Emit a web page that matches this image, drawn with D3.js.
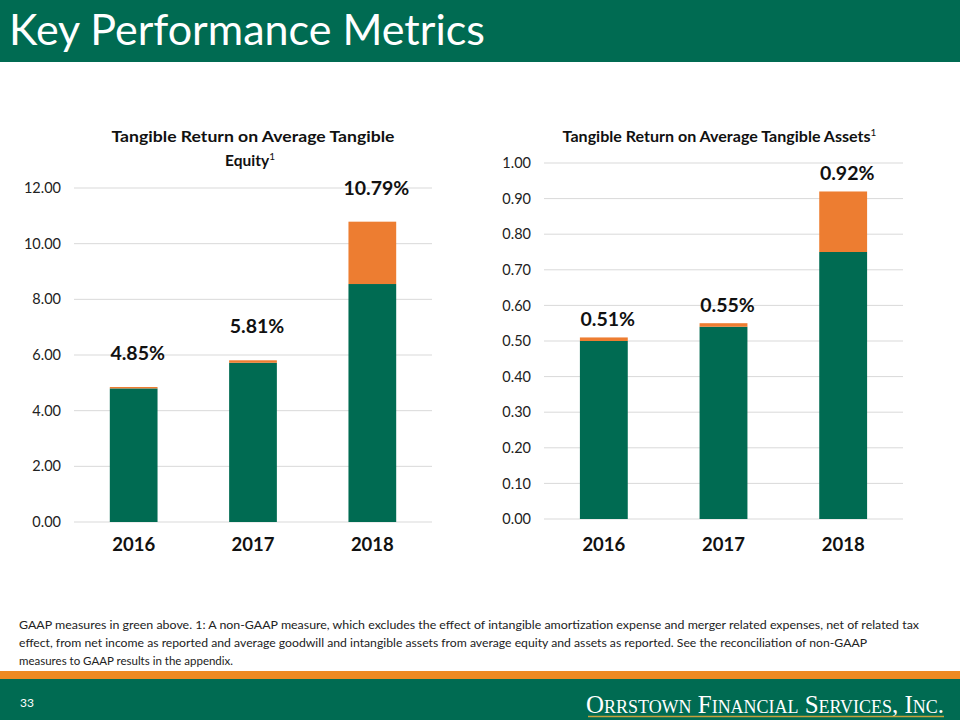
<!DOCTYPE html>
<html><head><meta charset="utf-8">
<script src="https://cdn.jsdelivr.net/npm/d3@7"></script>
<style>body{margin:0;background:#fff}svg{display:block}</style>
</head><body><svg id="c" width="960" height="720"></svg>
<script>
const years = ["2016","2017","2018"];
const equityGaap = [4.80, 5.72, 8.55];
const equityAdj = [0.05, 0.09, 2.24];
const equityLabels = ["4.85%","5.81%","10.79%"];
const equityTicks = [0,2,4,6,8,10,12];
const assetsGaap = [0.50, 0.54, 0.75];
const assetsAdj = [0.01, 0.01, 0.17];
const assetsLabels = ["0.51%","0.55%","0.92%"];
const assetsTicks = [0,0.1,0.2,0.3,0.4,0.5,0.6,0.7,0.8,0.9,1.0];

const GREEN = "#006b52", ORANGE = "#ed7d31", FONT = "Lato, 'Open Sans', sans-serif";
const svg = d3.select("#c");

// header
svg.append("rect").attr("x",0).attr("y",0).attr("width",960).attr("height",62).attr("fill",GREEN);
svg.append("text").attr("x",9).attr("y",45).attr("fill","#fff").attr("font-family",FONT)
  .attr("font-size",42).attr("textLength",476).attr("lengthAdjust","spacingAndGlyphs").text("Key Performance Metrics");

function chart(opts){
  const {x0,x1,y0,y1,max,ticks,gaap,adj,labels,labelGap,titleLines,titleY,fmt,xPad} = opts;
  const g = svg.append("g");
  const x = d3.scaleBand().domain(years).range([x0,x1]).paddingInner(0.6).paddingOuter(0.3);
  const y = d3.scaleLinear().domain([0,max]).range([y0,y1]);
  g.selectAll(".grid").data(ticks).join("line")
    .attr("x1",x0).attr("x2",x1).attr("y1",d=>y(d)).attr("y2",d=>y(d))
    .attr("stroke","#d9d9d9").attr("stroke-width",1);
  const ya = g.append("g").attr("transform",`translate(${x0},0)`)
    .call(d3.axisLeft(y).tickValues(ticks).tickFormat(fmt).tickSize(0).tickPadding(13));
  ya.select(".domain").remove();
  ya.selectAll("text").attr("font-family",FONT).attr("font-size",14.5).attr("fill","#222");
  const xa = g.append("g").attr("transform",`translate(0,${y0})`)
    .call(d3.axisBottom(x).tickSize(0).tickPadding(xPad));
  xa.select(".domain").remove();
  xa.selectAll("text").attr("font-family",FONT).attr("font-size",18.5).attr("font-weight","bold").attr("fill","#111");
  g.selectAll(".g").data(years).join("rect")
    .attr("x",d=>x(d)).attr("width",x.bandwidth())
    .attr("y",(d,i)=>y(gaap[i])).attr("height",(d,i)=>y(0)-y(gaap[i])).attr("fill",GREEN);
  g.selectAll(".o").data(years).join("rect")
    .attr("x",d=>x(d)).attr("width",x.bandwidth())
    .attr("y",(d,i)=>y(gaap[i]+adj[i])).attr("height",(d,i)=>y(gaap[i])-y(gaap[i]+adj[i])).attr("fill",ORANGE);
  g.selectAll(".l").data(years).join("text")
    .attr("x",d=>x(d)+x.bandwidth()/2+4).attr("y",(d,i)=>y(gaap[i]+adj[i])-labelGap)
    .attr("text-anchor","middle").attr("font-family",FONT).attr("font-size",19.5).attr("font-weight","bold").attr("fill","#111")
    .text((d,i)=>labels[i]);
  const t = g.append("text").attr("x",(x0+x1)/2).attr("y",titleY).attr("text-anchor","middle")
    .attr("font-family",FONT).attr("font-size",15.5).attr("font-weight","bold").attr("fill","#111");
  titleLines.forEach((ln,i)=>{
    const ts = t.append("tspan").attr("x",(x0+x1)/2 + (ln.dx||0)).attr("dy",i?24:0).text(ln.text);
    if(ln.len) ts.attr("textLength",ln.len).attr("lengthAdjust","spacingAndGlyphs");
    if(ln.sup){ t.append("tspan").attr("dy",-6).attr("font-size",10).attr("font-weight","normal").text(ln.sup);
      t.append("tspan").attr("dy",6).text(""); }
  });
}

chart({x0:74,x1:432,y0:522,y1:188,max:12,ticks:equityTicks,gaap:equityGaap,adj:equityAdj,labels:equityLabels,
  labelGap:27,titleY:142,fmt:d3.format(".2f"),xPad:16,
  titleLines:[{text:"Tangible Return on Average Tangible",len:283},{text:"Equity",sup:"1",dx:-3}]});
chart({x0:544,x1:903,y0:519,y1:163,max:1,ticks:assetsTicks,gaap:assetsGaap,adj:assetsAdj,labels:assetsLabels,
  labelGap:11,titleY:142,fmt:d3.format(".2f"),xPad:19,
  titleLines:[{text:"Tangible  Return on Average Tangible  Assets",sup:"1",dx:-4,len:308}]});

// footnote
const notes = ["GAAP measures in green above. 1: A non-GAAP  measure, which excludes the effect of intangible amortization expense and merger related expenses, net of related tax",
 "effect,  from net income as reported and average goodwill and intangible assets from average equity and assets as reported.  See  the reconciliation of non-GAAP",
 "measures to GAAP results in the appendix."];
const nl = [919, 867, 233];
svg.selectAll(".note").data(notes).join("text").attr("x",19).attr("y",(d,i)=>629+i*18)
  .attr("font-family",FONT).attr("font-size",11).attr("fill","#222")
  .attr("textLength",(d,i)=>nl[i]-19).attr("lengthAdjust","spacingAndGlyphs").text(d=>d);

// footer
svg.append("rect").attr("x",0).attr("y",671).attr("width",960).attr("height",8).attr("fill","#ee8a22");
svg.append("rect").attr("x",0).attr("y",679).attr("width",960).attr("height",41).attr("fill",GREEN);
svg.append("text").attr("x",20).attr("y",707).attr("fill","#fff").attr("font-family",FONT).attr("font-size",12).text("33");
svg.append("text").attr("x",586).attr("y",713).attr("fill","#fff")
  .attr("font-family","'Liberation Serif', 'DejaVu Serif', serif").attr("font-size",25)
  .style("font-variant","small-caps")
  .attr("textLength",358).attr("lengthAdjust","spacingAndGlyphs").text("Orrstown Financial Services, Inc.");
svg.append("line").attr("x1",588).attr("x2",944).attr("y1",716.5).attr("y2",716.5).attr("stroke","#c8a13c").attr("stroke-width",1.5);
</script></body></html>
